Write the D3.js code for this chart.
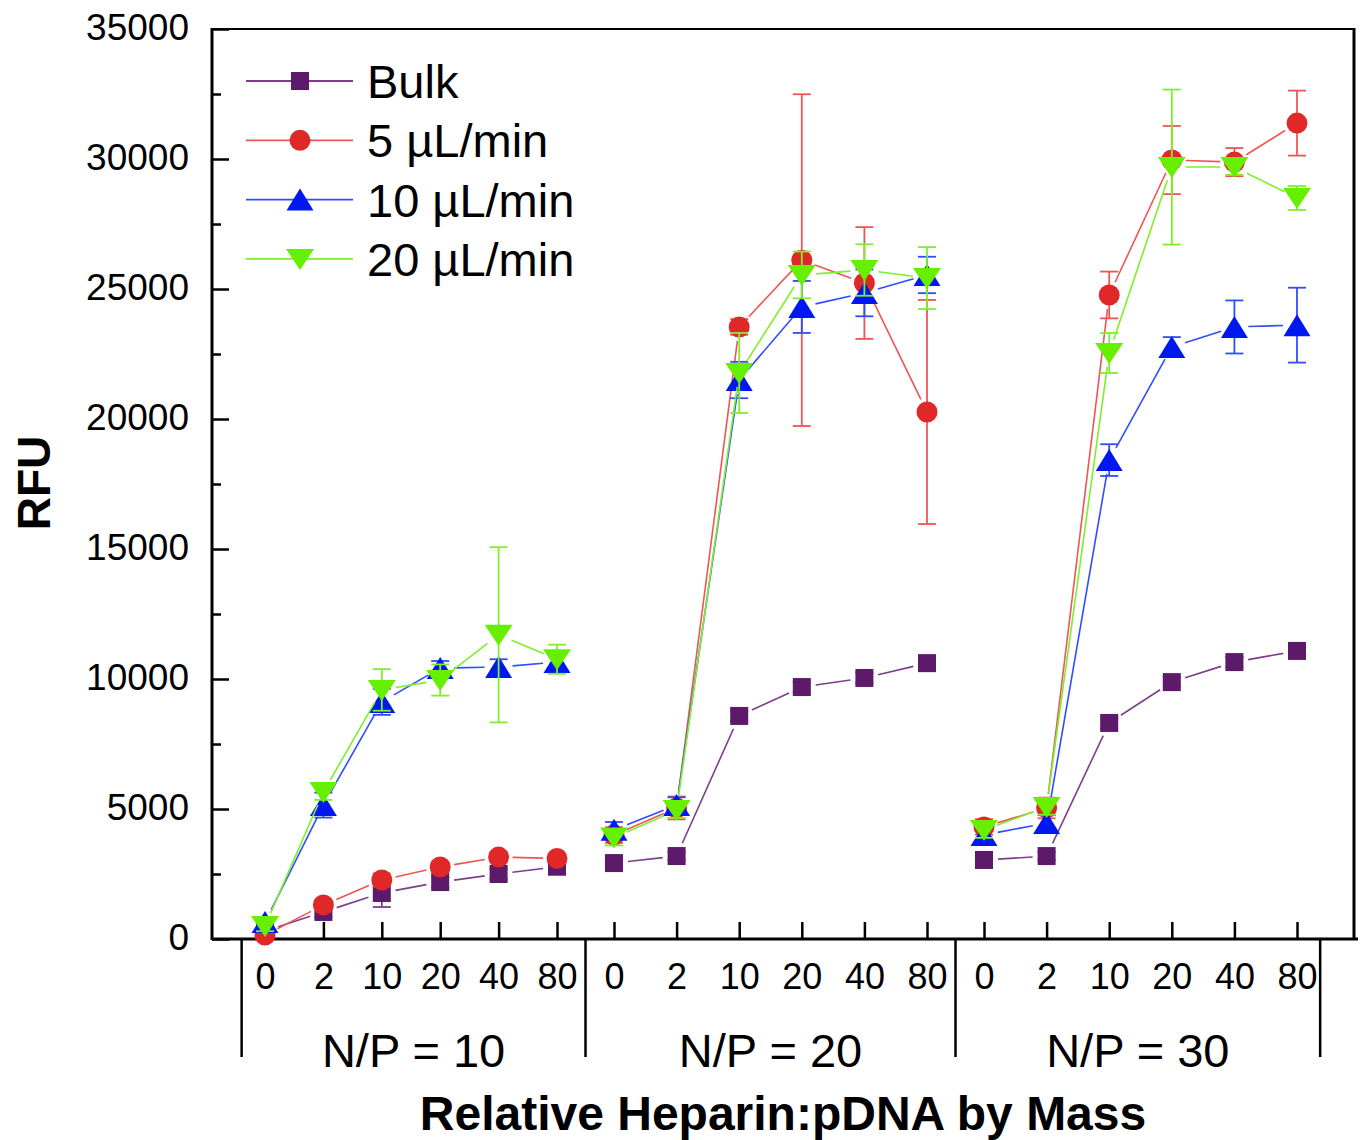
<!DOCTYPE html>
<html>
<head>
<meta charset="utf-8">
<script src="https://cdn.jsdelivr.net/npm/d3@7"></script>
<style>
    body { margin: 0; background: #fff; }
    svg { display: block; font-family: "Liberation Sans", Arial, sans-serif; }
</style>
</head>
<body>
<svg id="chart"></svg>
<script>
// Groups along the x axis and heparin ratios inside each group
const groups = ["N/P = 10", "N/P = 20", "N/P = 30"];
const heparin = ["0", "2", "10", "20", "40", "80"];
const yTicks = [0, 5000, 10000, 15000, 20000, 25000, 30000, 35000];

// RFU values, 6 per group, in group order
const bulk = [300, 1040, 1770, 2190, 2500, 2780,
    2920, 3190, 8580, 9690, 10040, 10610,
    3040, 3190, 8310, 9880, 10650, 11080];
const bulkErr = [100, 200, 540, 200, 200, 200,
    150, 150, 200, 200, 200, 200,
    150, 150, 200, 200, 200, 200];

const flow5 = [150, 1310, 2270, 2770, 3150, 3100,
    4000, 5040, 23540, 26110, 25230, 20270,
    4310, 5040, 24770, 29960, 29880, 31380];
const flow5Err = [100, 200, 250, 200, 200, 150,
    300, 440, 300, 6380, 2150, 4310,
    300, 400, 900, 1310, 540, 1250];

const flow10 = [650, 5150, 9120, 10420, 10460, 10650,
    4200, 5150, 21500, 24310, 24850, 25540,
    4000, 4460, 18420, 22770, 23540, 23610];
const flow10Err = [200, 480, 500, 270, 300, 300,
    300, 300, 700, 1000, 900, 700,
    300, 300, 610, 380, 1020, 1440];

const flow20 = [500, 5650, 9580, 9960, 11700, 10760,
    3900, 4960, 21770, 25540, 25730, 25420,
    4190, 5080, 22540, 29690, 29690, 28500];
const flow20Err = [200, 300, 800, 600, 3370, 560,
    300, 300, 1540, 900, 990, 1190,
    300, 300, 770, 2980, 300, 460];

const series = [
    {name: "Bulk", values: bulk, errors: bulkErr, shape: "square", fill: "#5e1a6a", line: "#7d3f8c"},
    {name: "5 \u00b5L/min", values: flow5, errors: flow5Err, shape: "circle", fill: "#e02828", line: "#f05555"},
    {name: "10 \u00b5L/min", values: flow10, errors: flow10Err, shape: "up", fill: "#0018f0", line: "#2f4cff"},
    {name: "20 \u00b5L/min", values: flow20, errors: flow20Err, shape: "down", fill: "#66f000", line: "#7df02c"}
];

const width = 1361;
const height = 1140;
const plotLeft = 212, plotRight = 1354, plotTop = 29, plotBottom = 939;
const perGroup = heparin.length;

const svg = d3.select("#chart")
    .attr("width", width)
    .attr("height", height);

// Piecewise x scale: the first group is drawn a little tighter than the others
const x = d3.scaleLinear()
    .domain([0, 5, 6, 11, 12, 17])
    .range([265, 557, 614, 927, 984, 1297]);

const y = d3.scaleLinear()
    .domain([0, 35000])
    .range([plotBottom, plotTop]);

// Y axis, ticks pointing inside
svg.append("g")
    .attr("transform", `translate(${plotLeft},0)`)
    .call(d3.axisLeft(y).tickValues(d3.range(2500, 35000, 5000)).tickSize(-9).tickFormat(""))
    .call(g => g.select(".domain").remove())
    .call(g => g.selectAll("line").attr("stroke", "#000").attr("stroke-width", 2.5));

svg.append("g")
    .attr("transform", `translate(${plotLeft},0)`)
    .call(d3.axisLeft(y).tickValues(yTicks).tickSize(-17).tickPadding(23).tickFormat(d3.format("d")))
    .call(g => g.select(".domain").remove())
    .call(g => g.selectAll("line").attr("stroke", "#000").attr("stroke-width", 2.5))
    .call(g => g.selectAll("text")
        .attr("fill", "#000")
        .attr("dy", "0.28em")
        .style("font-size", "37px")
        .style("font-family", "'Liberation Sans', Arial, sans-serif"));

// X axis, one tick per point
const indices = d3.range(groups.length * perGroup);
svg.append("g")
    .attr("transform", `translate(0,${plotBottom})`)
    .call(d3.axisBottom(x).tickValues(indices).tickSizeInner(-17).tickSizeOuter(0).tickPadding(24)
        .tickFormat(i => heparin[i % perGroup]))
    .call(g => g.select(".domain").remove())
    .call(g => g.selectAll("line").attr("stroke", "#000").attr("stroke-width", 2.5))
    .call(g => g.selectAll("text")
        .attr("fill", "#000")
        .style("font-size", "36px")
        .style("font-family", "'Liberation Sans', Arial, sans-serif"));

// Frame
const frame = svg.append("g").attr("stroke", "#000").attr("fill", "none");
frame.append("line").attr("x1", plotLeft).attr("x2", plotRight).attr("y1", plotTop).attr("y2", plotTop).attr("stroke-width", 2);
frame.append("line").attr("x1", plotLeft).attr("x2", plotLeft).attr("y1", plotTop - 1).attr("y2", plotBottom + 1).attr("stroke-width", 3);
frame.append("line").attr("x1", plotRight).attr("x2", plotRight).attr("y1", plotTop - 1).attr("y2", plotBottom + 1).attr("stroke-width", 3);
frame.append("line").attr("x1", plotLeft).attr("x2", plotRight + 4).attr("y1", plotBottom).attr("y2", plotBottom).attr("stroke-width", 3);

// Group brackets below the axis
const bounds = [-0.4, 5.5, 11.5, 17.37];
svg.append("g")
    .selectAll("line")
    .data(bounds)
    .join("line")
    .attr("x1", d => x(d))
    .attr("x2", d => x(d))
    .attr("y1", plotBottom)
    .attr("y2", 1057)
    .attr("stroke", "#000")
    .attr("stroke-width", 2.5);

svg.append("g")
    .selectAll("text")
    .data(groups)
    .join("text")
    .attr("x", (d, i) => (x(bounds[i]) + x(bounds[i + 1])) / 2)
    .attr("y", 1067)
    .attr("text-anchor", "middle")
    .style("font-size", "47px")
    .text(d => d);

// Axis titles
svg.append("text")
    .attr("x", (plotLeft + plotRight) / 2)
    .attr("y", 1130)
    .attr("text-anchor", "middle")
    .style("font-size", "48px")
    .style("font-weight", "bold")
    .text("Relative Heparin:pDNA by Mass");

svg.append("text")
    .attr("transform", "translate(50,483) rotate(-90)")
    .attr("text-anchor", "middle")
    .style("font-size", "46px")
    .style("font-weight", "bold")
    .text("RFU");

function markerPath(shape) {
    if (shape === "up") return "M0,-11L13.5,11L-13.5,11Z";
    if (shape === "down") return "M0,11L14,-10L-14,-10Z";
    return null;
}

function drawMarker(sel, s) {
    if (s.shape === "square") {
        sel.append("rect")
            .attr("x", -9).attr("y", -9)
            .attr("width", 18).attr("height", 18)
            .attr("fill", s.fill);
    } else if (s.shape === "circle") {
        sel.append("circle")
            .attr("r", 10.5)
            .attr("fill", s.fill);
    } else {
        sel.append("path")
            .attr("d", markerPath(s.shape))
            .attr("fill", s.fill);
    }
}

// Line pieces stop short of the symbols, like the original plot
function segments(values) {
    let result = [];
    const gap = 14;
    for (let g = 0; g < groups.length; g++) {
        for (let k = 0; k < perGroup - 1; k++) {
            let i = g * perGroup + k;
            let x1 = x(i), y1 = y(values[i]);
            let x2 = x(i + 1), y2 = y(values[i + 1]);
            let len = Math.hypot(x2 - x1, y2 - y1);
            if (len <= gap * 2) continue;
            let ux = (x2 - x1) / len, uy = (y2 - y1) / len;
            result.push({x1: x1 + ux * gap, y1: y1 + uy * gap, x2: x2 - ux * gap, y2: y2 - uy * gap});
        }
    }
    return result;
}

const plot = svg.append("g");
series.forEach(function (s) {
    const g = plot.append("g");

    g.selectAll("line.seg")
        .data(segments(s.values))
        .join("line")
        .attr("class", "seg")
        .attr("x1", d => d.x1).attr("y1", d => d.y1)
        .attr("x2", d => d.x2).attr("y2", d => d.y2)
        .attr("stroke", s.line)
        .attr("stroke-width", 1.6);

    const bars = g.selectAll("g.err")
        .data(indices)
        .join("g")
        .attr("class", "err")
        .attr("stroke", s.line)
        .attr("stroke-width", 1.8);
    bars.append("line")
        .attr("x1", i => x(i)).attr("x2", i => x(i))
        .attr("y1", i => y(s.values[i] - s.errors[i]))
        .attr("y2", i => y(s.values[i] + s.errors[i]));
    bars.append("line")
        .attr("x1", i => x(i) - 9).attr("x2", i => x(i) + 9)
        .attr("y1", i => y(s.values[i] + s.errors[i]))
        .attr("y2", i => y(s.values[i] + s.errors[i]));
    bars.append("line")
        .attr("x1", i => x(i) - 9).attr("x2", i => x(i) + 9)
        .attr("y1", i => y(s.values[i] - s.errors[i]))
        .attr("y2", i => y(s.values[i] - s.errors[i]));

    g.selectAll("g.pt")
        .data(indices)
        .join("g")
        .attr("class", "pt")
        .attr("transform", i => `translate(${x(i)},${y(s.values[i])})`)
        .each(function () { drawMarker(d3.select(this), s); });
});

// Legend
const legend = svg.append("g")
    .selectAll("g")
    .data(series)
    .join("g")
    .attr("transform", (d, i) => `translate(0,${81 + i * 59.3})`);

legend.append("line")
    .attr("x1", 246).attr("x2", 353)
    .attr("stroke", d => d.line)
    .attr("stroke-width", 1.8);

legend.append("g")
    .attr("transform", "translate(300,0)")
    .each(function (d) { drawMarker(d3.select(this), d); });

legend.append("text")
    .attr("x", 367)
    .attr("y", 17)
    .style("font-size", "47px")
    .text(d => d.name);
</script>
</body>
</html>
